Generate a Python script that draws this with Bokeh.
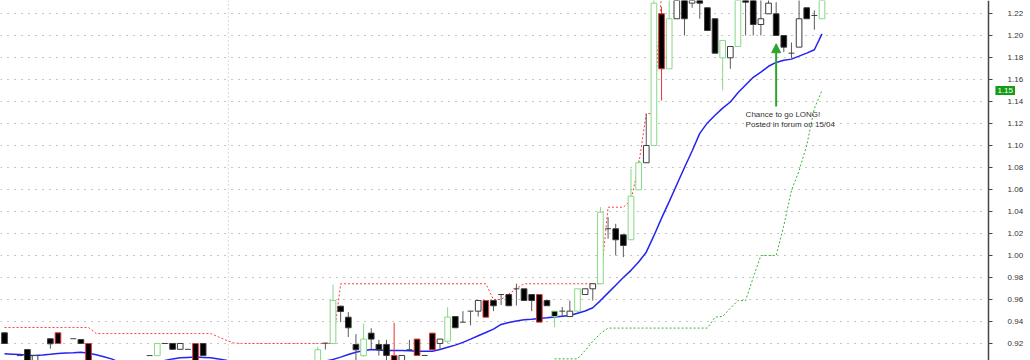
import numpy as np
from bokeh.plotting import figure
from bokeh.models import (Range1d, FixedTicker, PrintfTickFormatter, Span, Label,
                          Arrow, NormalHead, ColumnDataSource, BoxAnnotation)
from bokeh.embed import file_html
from bokeh.resources import INLINE

# ---------------- data ----------------
opens = [
    0.9297, 0.903, 0.909, 0.9145, 0.902, 0.903, 0.9243, 0.9297, 0.903, 0.9243,
    0.9236, 0.920, 0.898, 0.896, 0.898, 0.899, 0.895, 0.897, 0.896, 0.909,
    0.9089, 0.920, 0.920, 0.9147, 0.9147, 0.920, 0.920, 0.902, 0.897, 0.900,
    0.895, 0.896, 0.894, 0.897, 0.894, 0.895, 0.898, 0.895, 0.897, 0.900,
    0.898, 0.901, 0.9203, 0.920, 0.9539, 0.9439, 0.9191, 0.9089, 0.9294, 0.9191,
    0.9191, 0.9091, 0.903, 0.9143, 0.924, 0.9091, 0.9294, 0.920, 0.922, 0.9445,
    0.9394, 0.9494, 0.9494, 0.9591, 0.9591, 0.9645, 0.9645, 0.9697, 0.9697, 0.9645,
    0.9645, 0.9591, 0.9494, 0.9494, 0.9445, 0.9494, 0.9645, 0.9697, 0.9743, 1.0243,
    1.0243, 1.0188, 1.0143, 1.0597, 1.0843, 1.100, 1.2197, 1.1697, 1.2152, 1.236,
    1.2294, 1.234, 1.2252, 1.2152, 1.1797, 1.1797, 1.190, 1.235, 1.235, 1.210,
    1.2197, 1.2197, 1.200, 1.1839, 1.1894, 1.2252, 1.2182, 1.2152]
closes = [
    0.920, 0.899, 0.909, 0.900, 0.909, 0.900, 0.9197, 0.920, 0.899, 0.9243,
    0.920, 0.897, 0.896, 0.898, 0.899, 0.895, 0.897, 0.896, 0.902, 0.909,
    0.920, 0.920, 0.9147, 0.920, 0.9147, 0.898, 0.909, 0.897, 0.900, 0.895,
    0.896, 0.894, 0.897, 0.894, 0.895, 0.898, 0.895, 0.897, 0.900, 0.898,
    0.901, 0.9143, 0.9203, 0.9591, 0.9491, 0.9343, 0.9143, 0.924, 0.924, 0.9143,
    0.9091, 0.900, 0.9091, 0.9143, 0.9091, 0.9091, 0.9143, 0.924, 0.944, 0.9343,
    0.9394, 0.9494, 0.9591, 0.9439, 0.9543, 0.9645, 0.9543, 0.9697, 0.9591, 0.9591,
    0.9394, 0.9543, 0.9445, 0.9494, 0.9494, 0.9697, 0.9697, 0.9743, 1.0394, 1.0243,
    1.0143, 1.0091, 1.0539, 1.0843, 1.100, 1.2294, 1.1697, 1.2152, 1.235, 1.2152,
    1.234, 1.2294, 1.2045, 1.1839, 1.1955, 1.190, 1.236, 1.2303, 1.210, 1.2152,
    1.2294, 1.200, 1.1894, 1.1839, 1.2152, 1.2152, 1.2182, 1.236]
highs = [
    0.9297, 0.9035, 0.909, 0.9145, 0.909, 0.9035, 0.9243, 0.9297, 0.9035, 0.9243,
    0.9236, 0.920, 0.901, 0.900, 0.902, 0.902, 0.899, 0.901, 0.903, 0.909,
    0.920, 0.920, 0.920, 0.920, 0.9147, 0.920, 0.920, 0.903, 0.901, 0.902,
    0.899, 0.900, 0.898, 0.900, 0.897, 0.899, 0.901, 0.899, 0.902, 0.903,
    0.902, 0.917, 0.9206, 0.9736, 0.9545, 0.9485, 0.9285, 0.938, 0.9339, 0.9233,
    0.9233, 0.9388, 0.9091, 0.9233, 0.924, 0.9091, 0.9294, 0.924, 0.953, 0.9445,
    0.9494, 0.9494, 0.9591, 0.9591, 0.9591, 0.9645, 0.9645, 0.9743, 0.9697, 0.9645,
    0.9645, 0.9591, 0.9494, 0.9532, 0.959, 0.9697, 0.9697, 0.9743, 1.044, 1.0348,
    1.0288, 1.0188, 1.0788, 1.087, 1.1288, 1.235, 1.226, 1.236, 1.238, 1.238,
    1.236, 1.236, 1.2252, 1.2152, 1.1955, 1.190, 1.238, 1.238, 1.238, 1.236,
    1.236, 1.2303, 1.200, 1.1936, 1.236, 1.2252, 1.2227, 1.236]
lows = [
    0.920, 0.897, 0.909, 0.898, 0.900, 0.898, 0.9152, 0.920, 0.897, 0.9243,
    0.920, 0.895, 0.894, 0.893, 0.895, 0.894, 0.892, 0.894, 0.895, 0.909,
    0.9089, 0.920, 0.9147, 0.9147, 0.9147, 0.896, 0.909, 0.896, 0.895, 0.894,
    0.892, 0.893, 0.891, 0.893, 0.890, 0.892, 0.894, 0.893, 0.895, 0.896,
    0.895, 0.899, 0.9145, 0.920, 0.9394, 0.9258, 0.903, 0.908, 0.9152, 0.909,
    0.902, 0.898, 0.902, 0.9143, 0.9091, 0.9091, 0.9143, 0.9143, 0.920, 0.9343,
    0.9394, 0.9364, 0.9445, 0.9439, 0.9494, 0.955, 0.9543, 0.9545, 0.9591, 0.9494,
    0.9394, 0.9543, 0.9348, 0.9445, 0.9445, 0.9494, 0.9645, 0.959, 0.9743, 1.0152,
    1.000, 0.9985, 1.0143, 1.0597, 1.0843, 1.100, 1.1409, 1.1697, 1.2152, 1.200,
    1.2252, 1.2152, 1.2045, 1.1839, 1.150, 1.1697, 1.190, 1.200, 1.200, 1.200,
    1.2197, 1.200, 1.1848, 1.1794, 1.1894, 1.2152, 1.2052, 1.2152]
# g = hollow green, w = hollow dark, b = black, r = black with red edge, k = black with green edge
styles = [
    "b", "b", "w", "b", "w", "b", "b", "r", "b", "w",
    "b", "r", "b", "w", "w", "b", "w", "b", "w", "w",
    "g", "w", "b", "w", "w", "r", "b", "b", "w", "b",
    "w", "b", "w", "b", "w", "w", "b", "w", "w", "b",
    "w", "g", "w", "g", "b", "b", "b", "g", "b", "b",
    "b", "r", "w", "w", "r", "w", "r", "w", "g", "b",
    "w", "w", "w", "r", "b", "w", "b", "w", "b", "b",
    "r", "b", "k", "w", "w", "g", "w", "w", "g", "w",
    "b", "b", "g", "g", "w", "g", "r", "g", "w", "b",
    "w", "b", "b", "b", "g", "w", "g", "b", "b", "w",
    "w", "b", "b", "w", "w", "b", "w", "g"]
moving_avg = [
    0.9106, 0.9103, 0.910, 0.9093, 0.909, 0.9095, 0.9102, 0.911, 0.9113, 0.9116,
    0.912, 0.9112, 0.9097, 0.908, 0.906, 0.903, 0.901, 0.900, 0.900, 0.901,
    0.903, 0.9045, 0.906, 0.907, 0.9073, 0.9076, 0.9073, 0.907, 0.906, 0.9047,
    0.903, 0.901, 0.899, 0.898, 0.897, 0.897, 0.897, 0.898, 0.899, 0.900,
    0.901, 0.9025, 0.904, 0.9055, 0.9076, 0.910, 0.9121, 0.9135, 0.9145, 0.914,
    0.9136, 0.9136, 0.9136, 0.9133, 0.913, 0.913, 0.913, 0.9145, 0.9165, 0.9185,
    0.921, 0.924, 0.927, 0.930, 0.933, 0.9373, 0.939, 0.9405, 0.9415, 0.942,
    0.9427, 0.9433, 0.944, 0.9447, 0.9454, 0.9475, 0.9495, 0.9525, 0.959, 0.966,
    0.973, 0.980, 0.9865, 0.994, 1.003, 1.018, 1.034, 1.049, 1.0645, 1.080,
    1.095, 1.111, 1.1205, 1.1275, 1.134, 1.1395, 1.148, 1.155, 1.162, 1.1667,
    1.172, 1.1755, 1.1775, 1.1785, 1.1812, 1.184, 1.187, 1.2015]
# red trailing stop, bars 0..86
red_stop = [
    0.9345, 0.9345, 0.9345, 0.9345, 0.9345, 0.9345, 0.9345, 0.9345, 0.9345, 0.9345,
    0.9345, 0.9345, 0.929, 0.929, 0.929, 0.929, 0.929, 0.929, 0.929, 0.929,
    0.929, 0.929, 0.929, 0.929, 0.929, 0.929, 0.929, 0.929, 0.926, 0.923,
    0.9205, 0.920, 0.920, 0.920, 0.920, 0.920, 0.920, 0.920, 0.920, 0.920,
    0.920, 0.920, 0.920, 0.920, 0.9743, 0.9743, 0.9743, 0.9743, 0.9743, 0.9743,
    0.9743, 0.9743, 0.9743, 0.9743, 0.9743, 0.9743, 0.9743, 0.9743, 0.9743, 0.9743,
    0.9743, 0.9743, 0.9743, 0.9743, 0.960, 0.960, 0.965, 0.9697, 0.9743, 0.9743,
    0.9743, 0.9743, 0.9743, 0.9743, 0.9743, 0.9743, 0.9743, 0.9743, 0.9743, 1.0439,
    1.0439, 1.0439, 1.050, 1.082, 1.129, 1.129, 1.240]
# green trailing stop, bars 72..107
green_start = 72
green_stop = [
    0.906, 0.906, 0.906, 0.906, 0.9136, 0.922, 0.929, 0.934, 0.934, 0.934,
    0.934, 0.934, 0.934, 0.934, 0.934, 0.934, 0.934, 0.934, 0.934, 0.934,
    0.934, 0.944, 0.9445, 0.952, 0.959, 0.959, 0.980, 1.000, 1.000, 1.000,
    1.027, 1.059, 1.077, 1.100, 1.1336, 1.150]
price_ticks = [0.92, 0.94, 0.96, 0.98, 1.00, 1.02, 1.04, 1.06, 1.08, 1.10,
               1.12, 1.14, 1.16, 1.18, 1.20, 1.22]
note_lines = ["Chance to go LONG!", "Posted in forum on 15/04"]

# ---------------- styling ----------------
GREEN = "#86d986"
RED = "#e5333a"
DARK = "#3c3c3c"
WICK = "#5a5a5a"
fill_map = {"g": "white", "w": "white", "b": "black", "r": "black", "k": "black"}
line_map = {"g": GREEN, "w": DARK, "b": DARK, "r": RED, "k": GREEN}
wick_map = {"g": GREEN, "w": WICK, "b": WICK, "r": RED, "k": GREEN}

n = len(opens)
idx = np.arange(n)
o = np.array(opens); c = np.array(closes)
top = np.maximum(o, c); bot = np.minimum(o, c)
doji = np.abs(o - c) < 1e-6

src = ColumnDataSource(dict(x=idx, high=highs, low=lows, wick=[wick_map[s] for s in styles]))
body_src = ColumnDataSource(dict(
    x=idx[~doji], top=top[~doji], bottom=bot[~doji],
    fill=[fill_map[s] for s, d in zip(styles, doji) if not d],
    line=[line_map[s] for s, d in zip(styles, doji) if not d]))
doji_src = ColumnDataSource(dict(
    x0=idx[doji] - 0.38, x1=idx[doji] + 0.38, y=c[doji],
    line=[line_map[s] for s, d in zip(styles, doji) if d]))

# bar pitch is ~7.64 px; the price axis sits at bar position 128.8 (px ~988)
X_START, AXIS_X, X_END = -0.5236, 128.8, 134.29
Y_START, Y_END = 0.90453, 1.2318
p = figure(width=1030, height=360, output_backend="svg", toolbar_location=None,
           x_range=Range1d(X_START, X_END), y_range=Range1d(Y_START, Y_END),
           x_axis_location=None, y_axis_location="right",
           min_border_left=0, min_border_top=0, min_border_bottom=0, min_border_right=0)
p.outline_line_color = None
p.background_fill_color = "white"
p.border_fill_color = "white"

ax = p.yaxis[0]
ax.fixed_location = AXIS_X
ax.ticker = FixedTicker(ticks=price_ticks)
ax.formatter = PrintfTickFormatter(format="%.2f")
ax.axis_line_color = "#444444"
ax.axis_line_width = 1.5
ax.major_tick_in = 0
ax.major_tick_out = 4
ax.major_tick_line_color = "#444444"
ax.minor_tick_line_color = None
ax.major_label_text_font = "Liberation Sans"
ax.major_label_text_font_size = "8px"
ax.major_label_text_color = "#333333"
ax.major_label_standoff = 15

p.xgrid.visible = False
p.ygrid.grid_line_color = "#8c8c8c"
p.ygrid.grid_line_dash = "1 6"

# keep the area right of the price axis clean of grid dots
p.add_layout(BoxAnnotation(left=AXIS_X - 0.3, fill_color="white", fill_alpha=1.0,
                           line_color=None, level="underlay"))
p.add_layout(Span(location=29.3, dimension="height", line_color="#b0b0b0",
                  line_dash="1 3", line_width=1))

# indicator lines
p.line(np.arange(len(red_stop)), red_stop, line_color="#ff3b3b", line_dash="2 2", line_width=1)
p.line(np.arange(green_start, green_start + len(green_stop)), green_stop,
       line_color="#36b236", line_dash="2 2", line_width=1)
p.line(idx, moving_avg, line_color="#2424f0", line_width=1.5)

# candles
p.segment(x0="x", y0="low", x1="x", y1="high", line_color="wick", line_width=1, source=src)
p.vbar(x="x", width=0.74, top="top", bottom="bottom", fill_color="fill",
       line_color="line", line_width=1, source=body_src)
p.segment(x0="x0", y0="y", x1="x1", y1="y", line_color="line", line_width=1, source=doji_src)

# annotation
p.add_layout(Arrow(end=NormalHead(size=9, fill_color="#2ea42e", line_color="#2ea42e"),
                   x_start=101, y_start=1.1355, x_end=101, y_end=1.1925,
                   line_color="#2ea42e", line_width=2))
p.add_layout(Label(x=97.0, y=1.1282, text=note_lines[0], text_font="Liberation Sans",
                   text_font_size="8px", text_color="#333333", text_baseline="middle"))
p.add_layout(Label(x=97.0, y=1.1195, text=note_lines[1], text_font="Liberation Sans",
                   text_font_size="8px", text_color="#333333", text_baseline="middle"))

# last value tag of the trailing stop, on the price axis
last = green_stop[-1]
p.add_layout(Label(x=AXIS_X + 0.9, y=last, text=f"{last:.2f}", level="overlay",
                   text_font="Liberation Sans", text_font_size="8px", text_color="white",
                   text_baseline="middle", text_align="left",
                   background_fill_color="#159c15", padding=2))

open("out.html", "w").write(file_html(p, INLINE))
